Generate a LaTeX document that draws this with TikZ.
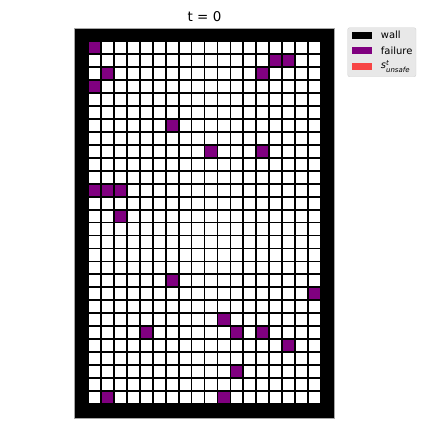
\documentclass[tikz,border=0pt]{standalone}
\usepackage{fontspec}
\setmainfont{DejaVu Sans}
\usetikzlibrary{positioning}
\definecolor{failcol}{RGB}{128,0,128}
\definecolor{unsafecol}{RGB}{247,69,69}
\definecolor{legbg}{RGB}{232,232,232}
\definecolor{legedge}{RGB}{210,210,210}

\begin{document}
\begin{tikzpicture}[x=1bp, y=-1bp,
        cell/.style={draw=black, line width=1.8bp, fill=white},
        fail/.style={draw=black, line width=1.8bp, fill=failcol},
        patch/.style={rectangle, minimum width=20bp, minimum height=7bp, inner sep=0pt},
        lbl/.style={font=\fontsize{10}{12}\selectfont, inner sep=0pt, anchor=west},
        node distance=8.3bp]
      \useasboundingbox (0,0) rectangle (432,432);
      % title
      \node[font=\fontsize{13.5}{16}\selectfont, inner sep=0pt] (title) at (204.5,17) {t = 0};
      % wall and grid
      \fill[black] (75,28.3) rectangle (334,417.8);
      \draw[black!35, line width=0.8bp] (74.6,27.9) rectangle (334.6,418.2);
      \foreach \c in {0,...,17}
        \foreach \r in {0,...,27}
          \draw[cell] ({75+(\c+1)*12.95},{28.3+(\r+1)*12.95}) rectangle +(12.95,12.95);
      % failure cells
      \foreach \c/\r in {0/0, 14/1, 15/1, 1/2, 13/2, 0/3, 6/6, 9/8, 13/8,
                         0/11, 1/11, 2/11, 2/13, 6/18, 17/19, 10/21, 4/22,
                         11/22, 13/22, 15/23, 11/25, 1/27, 10/27}
        \draw[fail] ({75+(\c+1)*12.95},{28.3+(\r+1)*12.95}) rectangle +(12.95,12.95);
      % legend
      \draw[legedge, fill=legbg, rounded corners=2bp] (347.7,27.7) rectangle (416,76.7);
      \node[patch, fill=black] (wallp) at (362,35) {};
      \node[patch, fill=failcol, below=of wallp] (failp) {};
      \node[patch, fill=unsafecol, below=of failp] (unsafep) {};
      \node[lbl, right=8.5bp of wallp] (walll) {wall};
      \node[lbl, right=8.5bp of failp] (faill) {failure};
      \node[lbl, right=8.5bp of unsafep] (unsafel) {\textit{s}$^{\textit{\scriptsize t}}_{\textit{\scriptsize unsafe}}$};
    \end{tikzpicture}
\end{document}
